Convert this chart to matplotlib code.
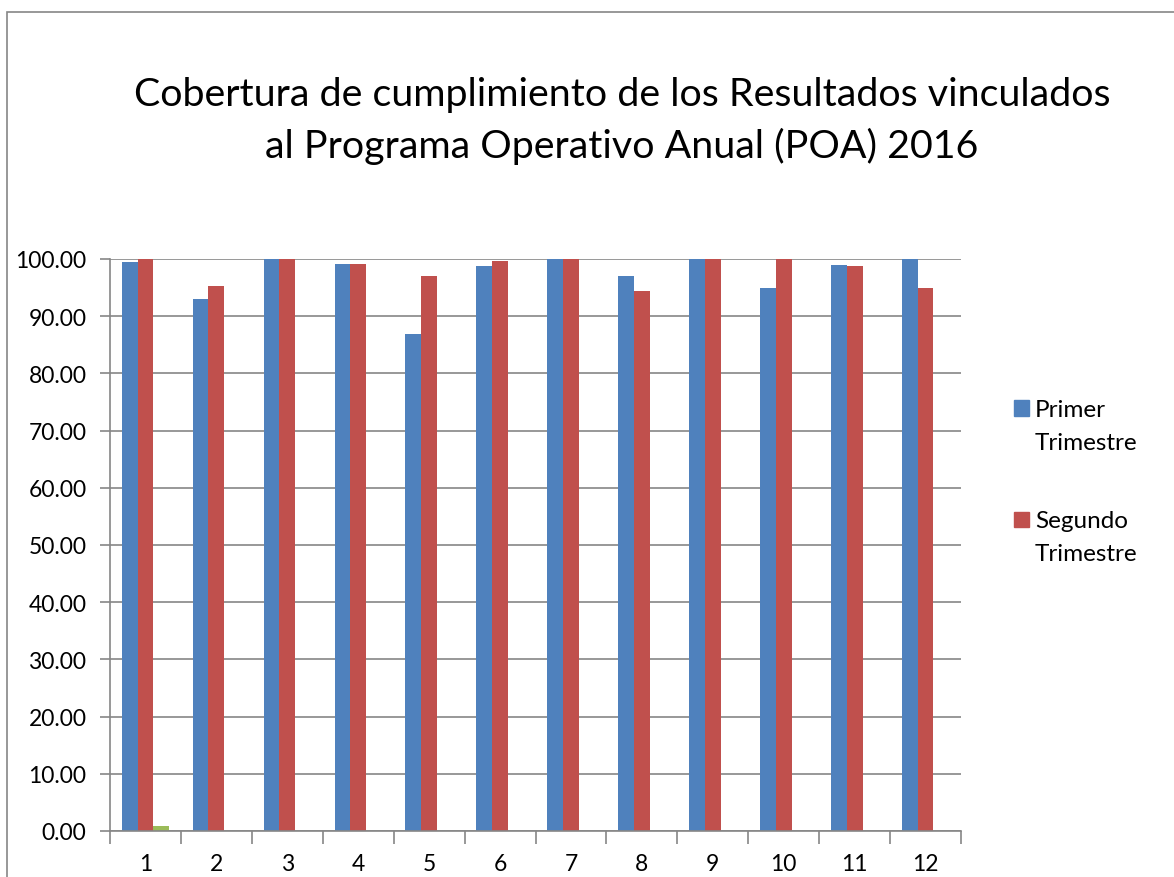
import matplotlib
matplotlib.use("Agg")
import matplotlib.pyplot as plt
import numpy as np
from matplotlib.patches import Rectangle

# data
categories = [str(i) for i in range(1, 13)]
primer = [99.4, 93.0, 100.0, 99.1, 86.9, 98.8, 100.0, 97.0, 100.0, 94.9, 98.9, 100.0]
segundo = [100.0, 95.2, 100.0, 99.2, 97.1, 99.7, 100.0, 94.4, 100.0, 100.0, 98.8, 95.0]
tercero = [0.9, 0, 0, 0, 0, 0, 0, 0, 0, 0, 0, 0]
yticks = [0, 10, 20, 30, 40, 50, 60, 70, 80, 90, 100]
legend_labels = [("Primer", "Trimestre"), ("Segundo", "Trimestre")]

BLUE, RED, GREEN = "#4F81BD", "#C0504D", "#9BBB59"
GRID = "#868686"

plt.rcParams["font.family"] = ["Lato", "DejaVu Sans"]

W, H = 1174, 878
fig = plt.figure(figsize=(W / 100, H / 100), dpi=100)

# outer chart border
fig.patches.append(Rectangle((7 / W, -0.1), 1.2, 1 - 13 / H + 0.1, transform=fig.transFigure,
                             fill=False, edgecolor=GRID, lw=1.2))

ax = fig.add_axes([110 / W, (H - 832) / H, (961 - 110) / W, (832 - 260) / H])

x = np.arange(len(categories))
w = 1 / 4.5
ax.bar(x - w, primer, w, color=BLUE)
ax.bar(x, segundo, w, color=RED)
ax.bar(x + w, tercero, w, color=GREEN)

ax.set_xlim(-0.5, len(categories) - 0.5)
ax.set_ylim(0, 100)
ax.set_yticks(yticks)
ax.set_yticklabels([f"{v:.2f}" for v in yticks], fontsize=16.5)
ax.yaxis.grid(True, color=GRID, lw=1.2)
ax.set_axisbelow(True)

ax.set_xticks(x)
ax.set_xticklabels(categories, fontsize=16.5)
ax.tick_params(axis="x", length=0, pad=16)
ax.set_xticks(np.arange(-0.5, len(categories)), minor=True)
ax.tick_params(axis="x", which="minor", length=9, width=1.2, color=GRID, direction="out")
ax.tick_params(axis="y", length=7, width=1.2, color=GRID, pad=10)

for s in ("top", "right"):
    ax.spines[s].set_visible(False)
for s in ("left", "bottom"):
    ax.spines[s].set_color(GRID)
    ax.spines[s].set_linewidth(1.2)

fig.text(622 / W, 1 - 121 / H,
         "Cobertura de cumplimiento de los Resultados vinculados\nal Programa Operativo Anual (POA) 2016",
         ha="center", va="center", fontsize=28.4, linespacing=1.48)

# legend: square aligned with the first line of each two-line label
for i, (l1, l2) in enumerate(legend_labels):
    col = [BLUE, RED][i]
    y0 = 409 + i * 111
    fig.patches.append(Rectangle((1014 / W, 1 - (y0 + 7.5) / H), 15 / W, 15 / H,
                                 transform=fig.transFigure, color=col))
    fig.text(1035 / W, 1 - y0 / H, l1, ha="left", va="center_baseline", fontsize=17.5)
    fig.text(1035 / W, 1 - (y0 + 33) / H, l2, ha="left", va="center_baseline", fontsize=17.5)

fig.savefig("out.png", dpi=100)
